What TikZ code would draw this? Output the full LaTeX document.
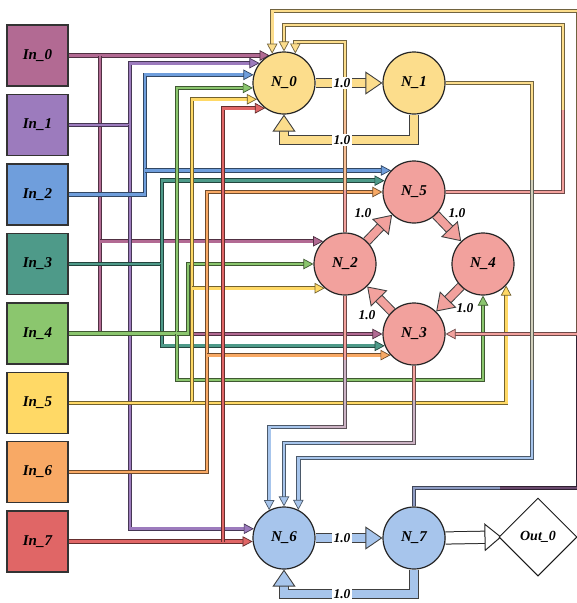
\documentclass[tikz,border=0pt]{standalone}
\usepackage{fontspec}
\setmainfont{Liberation Serif}
\usetikzlibrary{arrows.meta,shapes.geometric,backgrounds}
\definecolor{c0}{HTML}{B26A93}
\definecolor{c1}{HTML}{9C7BBD}
\definecolor{c2}{HTML}{6F9EDC}
\definecolor{c3}{HTML}{4E9A89}
\definecolor{c4}{HTML}{8BC66E}
\definecolor{c5}{HTML}{FFD966}
\definecolor{c6}{HTML}{F8A965}
\definecolor{c7}{HTML}{E06666}
\definecolor{ny}{HTML}{FCDD8C}
\definecolor{np}{HTML}{F2A19D}
\definecolor{nb}{HTML}{A7C5EC}
\definecolor{mixyb}{HTML}{D2D0BC}
\definecolor{mixpb}{HTML}{CCB3C4}
\definecolor{nbd}{HTML}{8E9CC4}
\definecolor{edk}{HTML}{6A4A6E}
\begin{document}
\begin{tikzpicture}[x=1pt,y=-1pt,
  inbox/.style={rectangle, draw=black!80, line width=1.2pt, minimum size=61pt, inner sep=0pt, fill=#1, font=\fontsize{15}{18}\selectfont\bfseries\itshape},
  neuron/.style={circle, draw=black!85, line width=1.2pt, minimum size=62pt, inner sep=0pt, fill=#1, font=\fontsize{15}{18}\selectfont\bfseries\itshape},
  outnode/.style={diamond, draw=black!90, line width=1pt, minimum width=78pt, minimum height=78pt, inner sep=0pt, fill=white, font=\fontsize{14}{17}\selectfont\bfseries\itshape},
  wlab/.style={fill=white, inner sep=1.2pt, font=\fontsize{13.5}{15}\selectfont\bfseries\itshape},
  rlab/.style={inner sep=1pt, font=\fontsize{13.5}{15}\selectfont\bfseries\itshape},
  wire/.style={preaction={draw=#1!45!black, line width=4.4pt, -}, draw=#1, line width=2.8pt},
  wirearr/.style={preaction={draw=#1!45!black, line width=4.4pt, -, shorten >=7pt}, draw=#1, line width=2.8pt,
     -{Triangle[length=10pt,width=10.5pt,fill=#1,color=#1!45!black,line width=0.7pt]}},
  fat/.style={preaction={draw=black!75, line width=9.6pt, -, shorten >=13pt}, draw=#1, line width=7.6pt,
     -{Triangle[length=17pt,width=23pt,fill=#1,color=black!75,line width=0.9pt]}},
  bigarr/.style={preaction={draw=black!85, line width=13.2pt, -, shorten >=12pt}, draw=white, line width=11.2pt,
     shorten >=-3pt, -{Triangle[length=17pt,width=28pt,fill=white,color=black!85,line width=1pt]}},
]
\useasboundingbox (0,0) rectangle (577,603);

% inputs
\node[inbox=c0] (In0) at (37.5,55.5) {In\_0};
\node[inbox=c1] (In1) at (37.5,125) {In\_1};
\node[inbox=c2] (In2) at (37.5,194.5) {In\_2};
\node[inbox=c3] (In3) at (37.5,264) {In\_3};
\node[inbox=c4] (In4) at (37.5,333.5) {In\_4};
\node[inbox=c5] (In5) at (37.5,403) {In\_5};
\node[inbox=c6] (In6) at (37.5,472) {In\_6};
\node[inbox=c7] (In7) at (37.5,541.5) {In\_7};

% neurons
\node[neuron=ny] (N0) at (284,83) {N\_0};
\node[neuron=ny] (N1) at (414,83) {N\_1};
\node[neuron=np] (N5) at (414,192) {N\_5};
\node[neuron=np] (N2) at (345,264) {N\_2};
\node[neuron=np] (N4) at (483,264) {N\_4};
\node[neuron=np] (N3) at (414,334) {N\_3};
\node[neuron=nb] (N6) at (284,538) {N\_6};
\node[neuron=nb] (N7) at (414,538) {N\_7};
\node[outnode] (Out0) at (538,537) {Out\_0};

% routing coordinates
\coordinate (v0) at (100,0);
\coordinate (v1) at (130,0);
\coordinate (v2) at (145,0);
\coordinate (v3) at (162,0);
\coordinate (v4) at (177,0);
\coordinate (v4b) at (188,0);
\coordinate (v5) at (192,0);
\coordinate (v6) at (207,0);
\coordinate (v7) at (223,0);
\coordinate (x310) at (310,0);
\coordinate (x340) at (340,0);
\coordinate (x500) at (500,0);
\coordinate (x532) at (532,0);
\coordinate (x563) at (563,0);
\coordinate (rE) at (578,0);
\coordinate (yTop) at (0,11);
\coordinate (y25) at (0,25);
\coordinate (y42) at (0,42);
\coordinate (y110) at (0,110);
\coordinate (y140) at (0,140);
\coordinate (y150) at (0,150);
\coordinate (y180) at (0,180);
\coordinate (y190) at (0,190);
\coordinate (y360) at (0,360);
\coordinate (y380) at (0,380);
\coordinate (y400) at (0,400);
\coordinate (y427) at (0,427);
\coordinate (y443) at (0,443);
\coordinate (y458) at (0,458);
\coordinate (y488) at (0,488);
\coordinate (y594) at (0,594);

\begin{pgfonlayer}{background}
% In_0
\draw[wirearr=c0] (In0.east) -- (In0.east -| N0.117.5);
\draw[wirearr=c0] (v0 |- In0.east) |- (N3.west);
\draw[wirearr=c0] (v0 |- N2.134.8) -- (N2.134.8);
% In_1
\draw[wirearr=c1] (In1.east) -- (v1 |- In1.east) |- (N0.141);
\draw[wirearr=c1] (v1 |- In1.east) |- (N6.163.1);
% In_2
\draw[wirearr=c2] (In2.east) -- (v2 |- In2.east) |- (N0.165);
\draw[wirearr=c2] (v2 |- N5.137.4) -- (N5.137.4);
% In_3
\draw[wirearr=c3] (In3.east) -- (v3 |- In3.east) |- (N5.159.2);
\draw[wirearr=c3] (v3 |- In3.east) |- (N3.202.8);
% In_4
\draw[wirearr=c4] (In4.east) -- (v4 |- In4.east) |- (N0.189.3);
\draw[wirearr=c4] (v4 |- In4.east) -- (v4 |- y380) -| (N4.south);
\draw[wirearr=c4] (v4 |- In4.east) -- (v4b |- In4.east) |- (N2.west);
% In_5
\draw[wirearr=c5] (In5.east) -- (v5 |- In5.east) |- (N0.211.1);
\draw[wirearr=c5] (v5 |- In5.east) -| (N4.317.9);
\draw[wirearr=c5] (v5 |- N2.230.7) -- (N2.230.7);
% In_6
\draw[wirearr=c6] (In6.east) -- (v6 |- In6.east) |- (N5.west);
\draw[wirearr=c6] (v6 |- N3.222.6) -- (N3.222.6);
% In_7
\draw[wirearr=c7] (In7.east) -- (In7.east -| N6.186.5);
\draw[wirearr=c7] (v7 |- In7.east) |- (N0.233.7);

% neuron wires
% N_7 -> N_3 and N_0 (via right edge)
\draw[wire=nbd] (N7.north) -- (N7.north |- y488) -- (x500 |- y488);
\draw[wire=edk] (x500 |- y488) -- (rE |- y488) -- (rE |- N3.east);
\draw[wire=np!60!ny] (rE |- N3.east) -- (rE |- y150);
\draw[wirearr=ny] (rE |- y150) -- (rE |- yTop) -| (N0.112.8);
\draw[wirearr=np] (rE |- N3.east) -- (N3.east);
% N_5 -> N_0
\draw[wire=np] (N5.east) -- (x563 |- N5.east) -- (x563 |- y110);
\draw[wirearr=ny] (x563 |- y110) -- (x563 |- y25) -| (N0.north);
% N_2 -> N_0
\draw[wire=np] (N2.north) -- (N2.north |- y190);
\draw[wire=np!50!ny] (N2.north |- y190) -- (N2.north |- y110);
\draw[wirearr=ny] (N2.north |- y110) -- (N2.north |- y42) -| (N0.69.2);
% N_1 -> N_6
\draw[wire=ny] (N1.east) -- (x532 |- N1.east) -- (x532 |- y180);
\draw[wire=mixyb] (x532 |- y180) -- (x532 |- y380);
\draw[wirearr=nb] (x532 |- y380) -- (x532 |- y458) -| (N6.63.2);
% N_2 -> N_6
\draw[wire=np] (N2.south) -- (N2.south |- y360);
\draw[wire=mixpb] (N2.south |- y360) -- (N2.south |- y427) -- (x310 |- y427);
\draw[wirearr=nb] (x310 |- y427) -| (N6.118.9);
% N_3 -> N_6
\draw[wire=np] (N3.south) -- (N3.south |- y400);
\draw[wire=mixpb] (N3.south |- y400) -- (N3.south |- y443) -- (x340 |- y443);
\draw[wirearr=nb] (x340 |- y443) -| (N6.north);

% weighted synapses
\draw[fat=ny] (N0.east) -- (N1.west);
\draw[fat=ny] (N1.south) -- (N1.south |- y140) -| (N0.south);
\draw[fat=np] (N2) -- (N5);
\draw[fat=np] (N5) -- (N4);
\draw[fat=np] (N4) -- (N3);
\draw[fat=np] (N3) -- (N2);
\draw[fat=nb] (N6.east) -- (N7.west);
\draw[fat=nb] (N7.south) -- (N7.south |- y594) -| (N6.south);
\draw[bigarr] (N7.east) -- (Out0.west);
\end{pgfonlayer}

% weight labels
\node[wlab] (l01) at (342,83) {1.0};
\node[wlab] (l10) at (342,140) {1.0};
\node[rlab] (l25) at (363,213) {1.0};
\node[rlab] (l54) at (457,213) {1.0};
\node[rlab] (l43) at (465,308) {1.0};
\node[rlab] (l32) at (367,315) {1.0};
\node[wlab] (l67) at (342,538) {1.0};
\node[wlab] (l76) at (342,594) {1.0};
\end{tikzpicture}
\end{document}
